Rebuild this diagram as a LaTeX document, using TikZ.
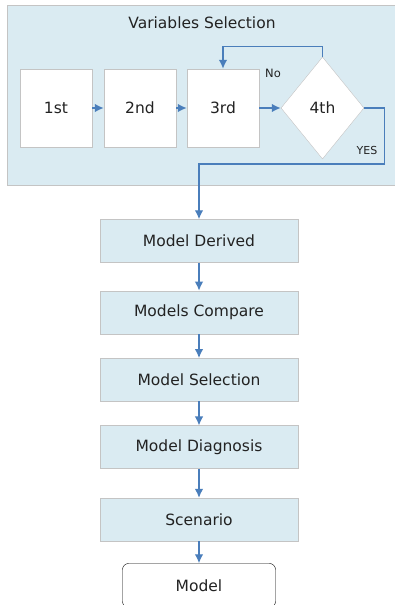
\documentclass[tikz,border=0pt]{standalone}
\usepackage{fontspec}
\setmainfont{DejaVu Sans}
\usepackage{tikz}
\usetikzlibrary{arrows.meta}
\usetikzlibrary{positioning,shapes.geometric}
\definecolor{panel}{HTML}{DAEBF2}
\definecolor{rim}{HTML}{C4C4C4}
\definecolor{flow}{HTML}{4A7EBB}
\definecolor{ink}{HTML}{222222}
\tikzset{
  %Define style for the variable boxes
  varbox/.style={
    rectangle,
    draw=rim, fill=white, thin,
    minimum width=72pt,
    minimum height=78pt,
    inner sep=0pt,
    text=ink,
    font=\fontsize{15.5}{18}\selectfont},
  % Define style for the stage boxes
  stage/.style={
    rectangle,
    draw=rim, fill=panel, thin,
    minimum width=198pt,
    minimum height=43pt,
    inner sep=0pt,
    text=ink,
    font=\fontsize{15.5}{18}\selectfont},
  % Define arrow style
  pil/.style={
    -{Latex[length=9pt,width=8.5pt]},
    draw=flow,
    line width=1.4pt}
}

\begin{document}
\begin{tikzpicture}[x=1pt,y=1pt,node distance=24pt]
  \useasboundingbox (0,0) rectangle (395,605);
  % panel behind the variable steps
  \fill[panel] (7,420) rectangle (402,600);
  \draw[rim] (402,420) -- (7,420) -- (7,600) -- (402,600);
  \node[text=ink, font=\fontsize{15.5}{18}\selectfont] (title) at (202,582) {Variables Selection};
  \node[varbox] (first) at (56,497) {1st};
  \node[varbox] (second) at (140,497) {2nd};
  \node[varbox] (third) at (223,497) {3rd};
  \node[diamond, draw=rim, fill=white, thin, inner sep=0pt,
        minimum width=83pt, minimum height=102pt, text=ink,
        font=\fontsize{15.5}{18}\selectfont] (fourth) at (322.5,497) {4th};
  \node[text=ink, font=\fontsize{11.5}{14}\selectfont] (no) at (273,532) {No};
  \node[text=ink, font=\fontsize{11}{13}\selectfont] (yes) at (367,454) {YES};
  % stages
  \node[stage] (derived) at (199,364) {Model Derived};
  \node[stage, below=28pt of derived] (compare) {Models Compare};
  \node[stage, below=of compare] (selection) {Model Selection};
  \node[stage, below=of selection] (diagnosis) {Model Diagnosis};
  \node[stage, below=29pt of diagnosis] (scenario) {Scenario};
  \node[rectangle, rounded corners=6pt, draw=black, fill=white, thin,
        minimum width=153pt, minimum height=44pt, text=ink,
        font=\fontsize{15.5}{18}\selectfont,
        below=22pt of scenario] (model) {Model};
  \draw[pil] (first) -- (second);
  \draw[pil] (second) -- (third);
  \draw[pil] (third) -- (fourth);
  \draw[pil] (fourth.north) -- ++(0,10) -| (third.north);
  \draw[pil] (fourth.east) -| ++(20,-56) -| (derived.north);
  \draw[pil] (derived) -- (compare);
  \draw[pil] (compare) -- (selection);
  \draw[pil] (selection) -- (diagnosis);
  \draw[pil] (diagnosis) -- (scenario);
  \draw[pil] (scenario) -- (model);
\end{tikzpicture}
\end{document}
